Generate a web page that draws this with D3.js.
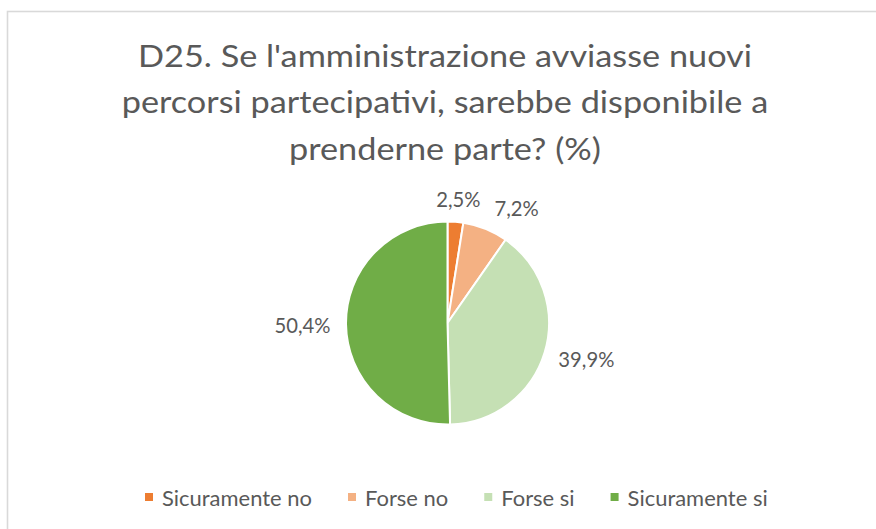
<!DOCTYPE html>
<html>
<head>
<meta charset="utf-8">
<script src="https://cdn.jsdelivr.net/npm/d3@7"></script>
<style>
  html, body { margin: 0; padding: 0; background: #fff; }
  svg { display: block; }
  text { font-family: Lato, "Noto Sans", sans-serif; fill: #595959; }
</style>
</head>
<body>
<script>
// Survey answers, D25 (percent of respondents)
const categories = ["Sicuramente no", "Forse no", "Forse si", "Sicuramente si"];
const values = [2.5, 7.2, 39.9, 50.4];
const colors = ["#ED7D31", "#F4B183", "#C5E0B4", "#70AD47"];
const titleLines = [
  "D25. Se l'amministrazione avviasse nuovi",
  "percorsi partecipativi, sarebbe disponibile a",
  "prenderne parte? (%)"
];
const fmt = v => d3.format(".1f")(v).replace(".", ",") + "%";

const W = 876, H = 529;
const svg = d3.select("body").append("svg").attr("width", W).attr("height", H);

// chart frame
svg.append("rect")
  .attr("x", 7.5).attr("y", 11.5)
  .attr("width", W + 20).attr("height", H + 20)
  .attr("fill", "none").attr("stroke", "#d9d9d9").attr("stroke-width", 1.6);

// width factor so that a sample string spans `target` px at the given size
function condense(parent, sample, size, target) {
  const t = parent.append("text").attr("font-size", size).text(sample);
  const k = target / t.node().getComputedTextLength();
  t.remove();
  return k;
}
function squeeze(t, k) {
  const w = t.node().getComputedTextLength();
  t.attr("textLength", w * k).attr("lengthAdjust", "spacingAndGlyphs");
  return w * k;
}

// title
const titleSize = 31;
const kTitle = condense(svg, titleLines[0], titleSize, 614);
const titleBase = [67, 113, 160];
titleLines.forEach((line, i) => {
  const t = svg.append("text")
    .attr("x", 445).attr("y", titleBase[i])
    .attr("text-anchor", "middle")
    .attr("font-size", titleSize)
    .text(line);
  squeeze(t, kTitle);
});

// pie
const cx = 447.5, cy = 323, R = 101.5;
const pie = d3.pie().sort(null).value(d => d.v);
const arcs = pie(categories.map((c, i) => ({ c, v: values[i], col: colors[i] })));
const arc = d3.arc().innerRadius(0).outerRadius(R);
const g = svg.append("g").attr("transform", `translate(${cx},${cy})`);
g.selectAll("path").data(arcs).join("path")
  .attr("d", arc)
  .attr("fill", d => d.data.col)
  .attr("stroke", "#fff")
  .attr("stroke-width", 2)
  .attr("stroke-linejoin", "round");

// data labels, placed just outside each slice
const labelSize = 21;
const kLabel = condense(g, "50,4%", labelSize, 56);
const labelR = R + 15.5;
const placed = [];
arcs.forEach(d => {
  const a = (d.startAngle + d.endAngle) / 2;
  const s = Math.sin(a), c = Math.cos(a);
  const t = g.append("text")
    .attr("font-size", labelSize)
    .attr("text-anchor", "middle")
    .attr("dominant-baseline", "central")
    .text(fmt(d.data.v));
  const w = squeeze(t, kLabel);
  const h = labelSize * 0.75;
  let x = labelR * s + s * w / 2;
  let y = -labelR * c - c * h / 2;
  // keep neighbouring labels from overlapping
  placed.forEach(p => {
    if (Math.abs(p.y - y) < h && x - w / 2 < p.x + p.w / 2 + 14 && x > p.x) {
      x = p.x + p.w / 2 + 14 + w / 2;
    }
  });
  placed.push({ x, y, w });
  t.attr("x", x).attr("y", y);
});

// legend
const legSize = 21;
const kLeg = condense(svg, categories[0], legSize, 150);
let lx = 145;
const ly = 497;
categories.forEach((c, i) => {
  svg.append("rect")
    .attr("x", lx).attr("y", ly - 4)
    .attr("width", 8).attr("height", 8)
    .attr("fill", colors[i]);
  const t = svg.append("text")
    .attr("x", lx + 17).attr("y", ly)
    .attr("dominant-baseline", "central")
    .attr("font-size", legSize)
    .text(c);
  lx += 17 + squeeze(t, kLeg) + 36;
});
</script>
</body>
</html>
